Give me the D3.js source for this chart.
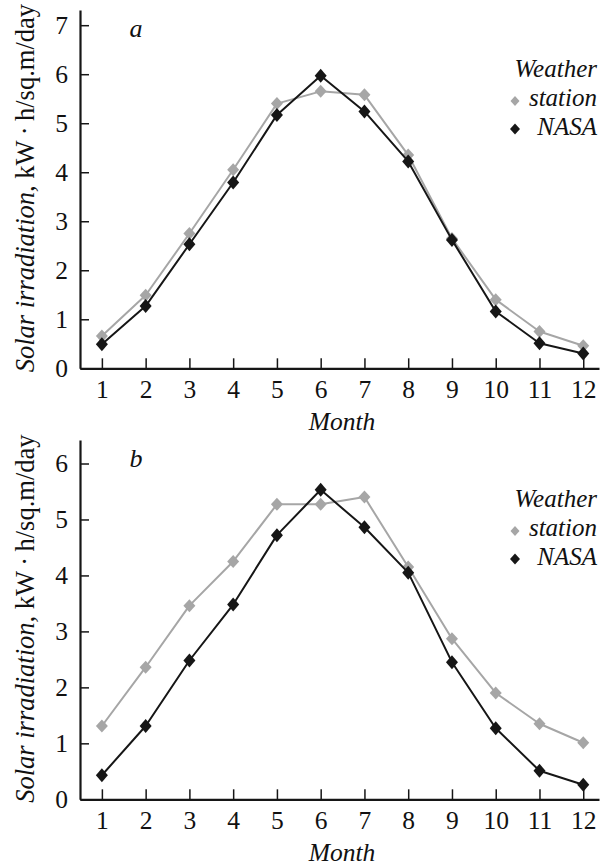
<!DOCTYPE html>
<html>
<head>
<meta charset="utf-8">
<script src="https://cdn.jsdelivr.net/npm/d3@7/dist/d3.min.js"></script>
<style>
  html, body { margin: 0; padding: 0; background: #fff; }
  svg { display: block; }
</style>
</head>
<body>
<svg id="chart" width="610" height="867"></svg>
<script>
// ---- Data ----
const months = [1, 2, 3, 4, 5, 6, 7, 8, 9, 10, 11, 12];
const stationA = [0.66, 1.49, 2.75, 4.05, 5.40, 5.65, 5.58, 4.35, 2.65, 1.40, 0.75, 0.46];
const nasaA    = [0.49, 1.27, 2.53, 3.79, 5.17, 5.97, 5.24, 4.22, 2.62, 1.16, 0.51, 0.30];
const stationB = [1.31, 2.36, 3.46, 4.25, 5.27, 5.27, 5.40, 4.15, 2.87, 1.90, 1.35, 1.01];
const nasaB    = [0.43, 1.31, 2.48, 3.48, 4.72, 5.53, 4.86, 4.05, 2.45, 1.27, 0.51, 0.26];
const yTicksA = [0, 1, 2, 3, 4, 5, 6, 7];
const yTicksB = [0, 1, 2, 3, 4, 5, 6];
const seriesNames = ["Weather", "station", "NASA"];
const panelLabels = ["a", "b"];
const xTitle = "Month";
const yTitleItalic = "Solar irradiation,";
const yTitleRest = " kW\u2009\u00B7\u2009h/sq.m/day";

const GRAY = "#a6a6a6";
const BLACK = "#161616";
const TEXT = "#111";
const FONT = "'Liberation Serif', 'Tinos', 'Times New Roman', Times, 'DejaVu Serif', serif";

const svg = d3.select("#chart");
svg.append("rect").attr("width", 610).attr("height", 867).attr("fill", "#fff");

function diamondPath(hw, hh) {
  return `M0,${-hh}L${hw},0L0,${hh}L${-hw},0Z`;
}

function txt(sel) {
  return sel.attr("font-family", FONT).style("font-family", FONT).attr("fill", TEXT);
}

function panel(cfg) {
  const g = svg.append("g");
  const x = d3.scaleLinear().domain([0.5, 12.36]).range([80, 599]);
  const y = d3.scaleLinear().domain([0, cfg.yMax]).range([cfg.bottom, cfg.top]);

  const ya = g.append("g").attr("transform", "translate(80,0)")
    .call(d3.axisLeft(y).tickValues(cfg.yTicks).tickSize(-9).tickSizeOuter(0).tickPadding(12).tickFormat(d3.format("d")));
  ya.attr("font-family", FONT);
  ya.select(".domain").attr("stroke", BLACK).attr("stroke-width", 2.2);
  ya.selectAll(".tick line").attr("stroke", BLACK).attr("stroke-width", 1.5);
  txt(ya.selectAll(".tick text")).attr("font-size", 25.5);

  const xa = g.append("g").attr("transform", `translate(0,${cfg.bottom})`)
    .call(d3.axisBottom(x).tickValues(months).tickSize(-10).tickSizeOuter(0).tickPadding(12).tickFormat(d3.format("d")));
  xa.attr("font-family", FONT);
  xa.select(".domain").attr("stroke", BLACK).attr("stroke-width", 2.2);
  xa.selectAll(".tick line").attr("stroke", BLACK).attr("stroke-width", 1.5);
  txt(xa.selectAll(".tick text")).attr("font-size", 25.5);

  const line = d3.line().x((d, i) => x(months[i])).y(d => y(d));

  [[cfg.station, GRAY, 6, 6.5], [cfg.nasa, BLACK, 6, 7]].forEach(([vals, col, hw, hh]) => {
    g.append("path").datum(vals).attr("d", line)
      .attr("fill", "none").attr("stroke", col).attr("stroke-width", 2).attr("stroke-linejoin", "round");
    g.selectAll(null).data(vals).enter().append("path")
      .attr("d", diamondPath(hw, hh))
      .attr("transform", (d, i) => `translate(${x(months[i])},${y(d)})`)
      .attr("fill", col);
  });

  txt(g.append("text")).attr("x", 136).attr("y", cfg.top + 27).attr("text-anchor", "middle")
    .attr("font-size", 26).attr("font-style", "italic").text(cfg.label);

  const lx = 597, ly = cfg.top + 67;
  seriesNames.forEach((s, i) => {
    txt(g.append("text")).attr("x", lx).attr("y", ly + [0, 29, 58][i]).attr("text-anchor", "end")
      .attr("font-size", 25).attr("font-style", "italic").text(s);
  });
  g.append("path").attr("d", diamondPath(4.5, 5)).attr("transform", `translate(515,${ly + 24})`).attr("fill", GRAY);
  g.append("path").attr("d", diamondPath(5, 5.5)).attr("transform", `translate(515,${ly + 52})`).attr("fill", BLACK);

  txt(g.append("text")).attr("x", 342).attr("y", cfg.bottom + 62).attr("text-anchor", "middle")
    .attr("font-size", 25.5).attr("font-style", "italic").text(xTitle);

  const yt = txt(g.append("text"))
    .attr("transform", `translate(34,${(cfg.top + cfg.bottom) / 2 - 1}) rotate(-90)`)
    .attr("text-anchor", "middle").attr("font-size", 26.5);
  yt.append("tspan").attr("font-style", "italic").text(yTitleItalic);
  yt.append("tspan").text(yTitleRest);
}

panel({ top: 10, bottom: 368.3, yMax: 7.31, yTicks: yTicksA, station: stationA, nasa: nasaA, label: panelLabels[0] });
panel({ top: 440, bottom: 799.3, yMax: 6.42, yTicks: yTicksB, station: stationB, nasa: nasaB, label: panelLabels[1] });
</script>
</body>
</html>
